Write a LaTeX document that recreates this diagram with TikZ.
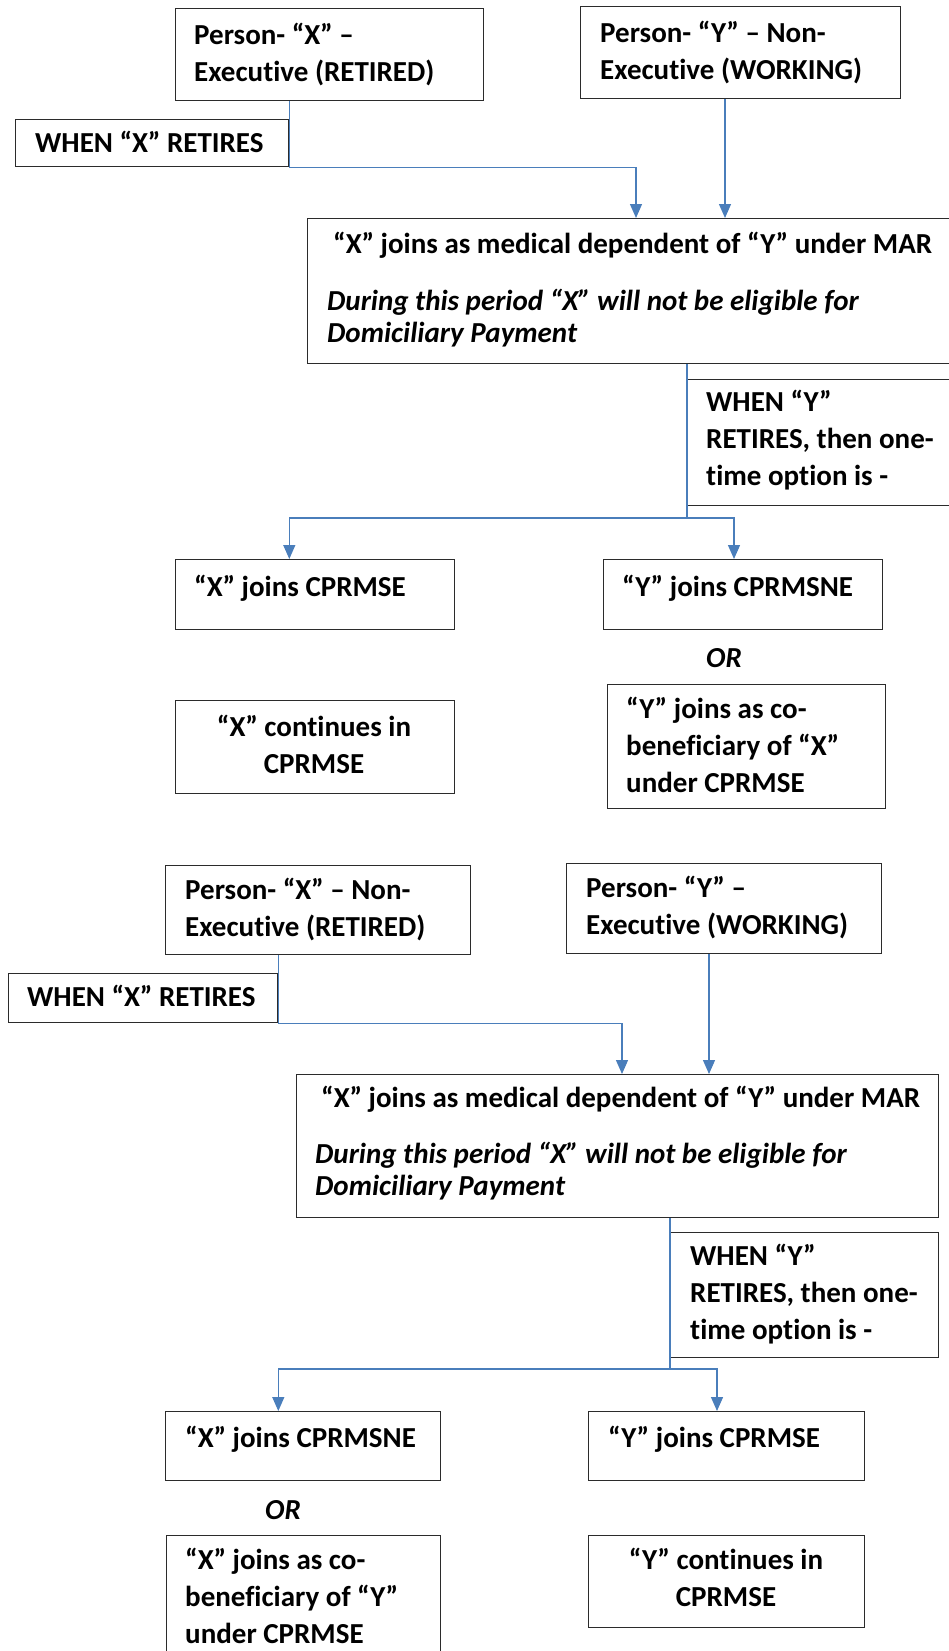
\documentclass[tikz,border=0pt]{standalone}
\usepackage{fontspec}
\setmainfont{Carlito}[RawFeature={-liga;-clig;-calt;-rlig;-dlig}]
\usetikzlibrary{arrows.meta}
\definecolor{linkblue}{HTML}{4A7EBB}
\definecolor{boxline}{HTML}{2B2B2B}

\begin{document}
\begin{tikzpicture}[x=1pt,y=-1pt,
  box/.style={draw=boxline,line width=1.3pt,anchor=north west,inner sep=0pt},
  txt/.style={anchor=north west,inner sep=0pt,align=left,font=\fontsize{29}{37}\selectfont\bfseries},
  itxt/.style={txt,font=\fontsize{29}{32}\selectfont\bfseries\itshape},
  ctxt/.style={txt,anchor=north,align=center},
  link/.style={draw=linkblue,line width=1.3pt},
  arrow/.style={link,-{Triangle[length=14pt,width=12pt]}}]
\useasboundingbox (0,0) rectangle (949,1651);
%
% first case: X executive, Y non-executive
\node[box,minimum width=308pt,minimum height=92pt] (xexec) at (175,8) {};
\node[box,minimum width=320pt,minimum height=92pt] (yexec) at (580,6) {};
\node[box,minimum width=273pt,minimum height=47pt] (xwhen) at (15,119) {};
\node[box,minimum width=660pt,minimum height=145pt] (dep) at (307,218) {};
\node[box,minimum width=280pt,minimum height=126pt] (ywhen) at (687,379) {};
\node[box,minimum width=279pt,minimum height=70pt] (xcpr) at (175,559) {};
\node[box,minimum width=279pt,minimum height=70pt] (ycpr) at (603,559) {};
\node[box,minimum width=279pt,minimum height=93pt] (xcont) at (175,700) {};
\node[box,minimum width=278pt,minimum height=124pt] (ycob) at (607,684) {};
%
\node[txt] (xexec-t) at (194,23) {Person- “X” –\\Executive (RETIRED)};
\node[txt] (yexec-t) at (600,21) {Person- “Y” – Non-\\Executive (WORKING)};
\node[txt] (xwhen-t) at (35,131) {WHEN “X” RETIRES};
\node[txt] (dep-t) at (333,232) {“X” joins as medical dependent of “Y” under MAR};
\node[itxt] (dep-i) at (327,289) {During this period “X” will not be eligible for\\Domiciliary Payment};
\node[txt] (ywhen-t) at (706,390) {WHEN “Y”\\RETIRES, then one-\\time option is -};
\node[txt] (xcpr-t) at (194,575) {“X” joins CPRMSE};
\node[txt] (ycpr-t) at (622,575) {“Y” joins CPRMSNE};
\node[itxt,anchor=center] (or1) at (724,658) {OR};
\node[ctxt] (xcont-t) at (314,715) {“X” continues in\\CPRMSE};
\node[txt] (ycob-t) at (626,697) {“Y” joins as co-\\beneficiary of “X”\\under CPRMSE};
%
\coordinate (in1) at (636,218);
\coordinate (in2) at (725,218);
\coordinate (split1) at (687,518);
\coordinate (out1) at (734,559);
\draw[arrow] (xwhen.east |- xexec.south) -- (xwhen.south east) -| (in1);
\draw[arrow] (in2 |- yexec.south) -- (in2);
\draw[link] (ywhen.west |- dep.south) -- (split1);
\draw[arrow] (split1) -| (xwhen.east |- xcpr.north);
\draw[arrow] (split1) -| (out1);
%
% second case: X non-executive, Y executive
\node[box,minimum width=305pt,minimum height=89pt] (xexec2) at (165,865) {};
\node[box,minimum width=315pt,minimum height=90pt] (yexec2) at (566,863) {};
\node[box,minimum width=269pt,minimum height=49pt] (xwhen2) at (8,973) {};
\node[box,minimum width=642pt,minimum height=143pt] (dep2) at (296,1074) {};
\node[box,minimum width=268pt,minimum height=125pt] (ywhen2) at (670,1232) {};
\node[box,minimum width=275pt,minimum height=69pt] (xcpr2) at (165,1411) {};
\node[box,minimum width=276pt,minimum height=69pt] (ycpr2) at (588,1411) {};
\node[box,minimum width=274pt,minimum height=140pt] (xcob2) at (166,1535) {};
\node[box,minimum width=276pt,minimum height=92pt] (ycont2) at (588,1535) {};
%
\node[txt] (xexec2-t) at (185,878) {Person- “X” – Non-\\Executive (RETIRED)};
\node[txt] (yexec2-t) at (586,876) {Person- “Y” –\\Executive (WORKING)};
\node[txt] (xwhen2-t) at (27,985) {WHEN “X” RETIRES};
\node[txt] (dep2-t) at (321,1086) {“X” joins as medical dependent of “Y” under MAR};
\node[itxt] (dep2-i) at (315,1142) {During this period “X” will not be eligible for\\Domiciliary Payment};
\node[txt] (ywhen2-t) at (690,1244) {WHEN “Y”\\RETIRES, then one-\\time option is -};
\node[txt] (xcpr2-t) at (185,1426) {“X” joins CPRMSNE};
\node[txt] (ycpr2-t) at (608,1426) {“Y” joins CPRMSE};
\node[itxt,anchor=center] (or2) at (283,1510) {OR};
\node[txt] (xcob2-t) at (185,1548) {“X” joins as co-\\beneficiary of “Y”\\under CPRMSE};
\node[ctxt] (ycont2-t) at (726,1548) {“Y” continues in\\CPRMSE};
%
\coordinate (in3) at (622,1074);
\coordinate (in4) at (709,1074);
\coordinate (split2) at (670,1369);
\coordinate (out2) at (717,1411);
\draw[arrow] (xwhen2.east |- xexec2.south) -- (xwhen2.south east) -| (in3);
\draw[arrow] (in4 |- yexec2.south) -- (in4);
\draw[link] (ywhen2.west |- dep2.south) -- (split2);
\draw[arrow] (split2) -| (xwhen2.east |- xcpr2.north);
\draw[arrow] (split2) -| (out2);
\end{tikzpicture}
\end{document}
